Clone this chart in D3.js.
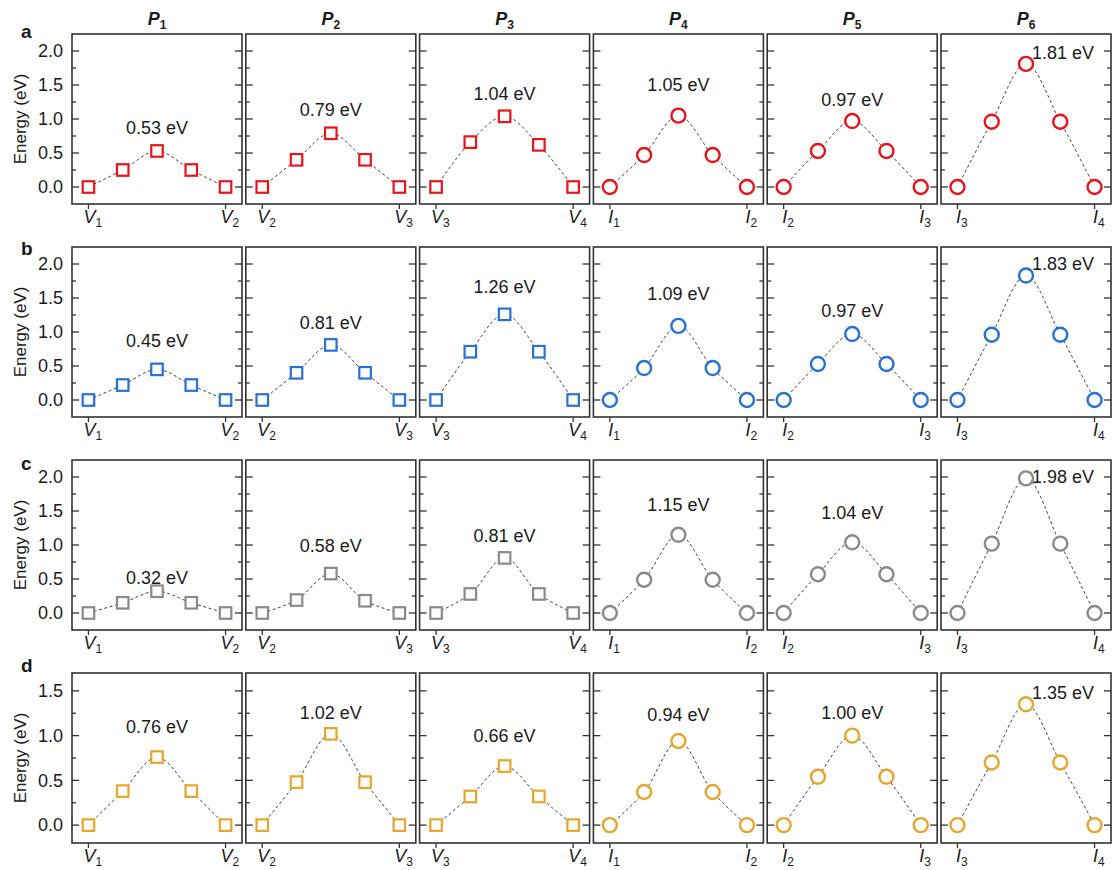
<!DOCTYPE html>
<html>
<head>
<meta charset="utf-8">
<script src="https://cdn.jsdelivr.net/npm/d3@7/dist/d3.min.js"></script>
<style>
  html, body { margin: 0; padding: 0; background: #fff; }
  svg { display: block; font-family: "Liberation Sans", Arial, Helvetica, sans-serif; }
</style>
</head>
<body>
<svg id="chart" width="1113" height="870"></svg>
<script>
// ---------------- data ----------------
const rowLetters = ["a", "b", "c", "d"];
const colTitles = ["1", "2", "3", "4", "5", "6"];           // P subscripts
const endLetters = [["V", "V"], ["V", "V"], ["V", "V"], ["I", "I"], ["I", "I"], ["I", "I"]];
const endSubs = [["1", "2"], ["2", "3"], ["3", "4"], ["1", "2"], ["2", "3"], ["3", "4"]];
const markerShapes = ["square", "square", "square", "circle", "circle", "circle"];
const rowColors = ["#e8141b", "#2572d6", "#8a8a8a", "#e6a62c"];

const energyA = [
  [0, 0.25, 0.53, 0.25, 0],
  [0, 0.40, 0.79, 0.40, 0],
  [0, 0.66, 1.04, 0.62, 0],
  [0, 0.47, 1.05, 0.47, 0],
  [0, 0.53, 0.97, 0.53, 0],
  [0, 0.96, 1.81, 0.96, 0]
];
const energyB = [
  [0, 0.22, 0.45, 0.22, 0],
  [0, 0.40, 0.81, 0.40, 0],
  [0, 0.71, 1.26, 0.71, 0],
  [0, 0.47, 1.09, 0.47, 0],
  [0, 0.53, 0.97, 0.53, 0],
  [0, 0.96, 1.83, 0.96, 0]
];
const energyC = [
  [0, 0.15, 0.32, 0.15, 0],
  [0, 0.19, 0.58, 0.18, 0],
  [0, 0.28, 0.81, 0.28, 0],
  [0, 0.49, 1.15, 0.49, 0],
  [0, 0.57, 1.04, 0.57, 0],
  [0, 1.02, 1.98, 1.02, 0]
];
const energyD = [
  [0, 0.38, 0.76, 0.38, 0],
  [0, 0.48, 1.02, 0.48, 0],
  [0, 0.32, 0.66, 0.32, 0],
  [0, 0.37, 0.94, 0.37, 0],
  [0, 0.54, 1.00, 0.54, 0],
  [0, 0.70, 1.35, 0.70, 0]
];
const energies = [energyA, energyB, energyC, energyD];

const barrierA = ["0.53 eV", "0.79 eV", "1.04 eV", "1.05 eV", "0.97 eV", "1.81 eV"];
const barrierB = ["0.45 eV", "0.81 eV", "1.26 eV", "1.09 eV", "0.97 eV", "1.83 eV"];
const barrierC = ["0.32 eV", "0.58 eV", "0.81 eV", "1.15 eV", "1.04 eV", "1.98 eV"];
const barrierD = ["0.76 eV", "1.02 eV", "0.66 eV", "0.94 eV", "1.00 eV", "1.35 eV"];
const barriers = [barrierA, barrierB, barrierC, barrierD];

// label anchor (energy, eV) of each barrier annotation
const labelEA = [0.87, 1.13, 1.37, 1.51, 1.28, 1.97];
const labelEB = [0.87, 1.13, 1.66, 1.56, 1.32, 2.01];
const labelEC = [0.52, 0.99, 1.14, 1.59, 1.47, 2.00];
const labelED = [1.10, 1.26, 1.00, 1.23, 1.26, 1.48];
const labelE = [labelEA, labelEB, labelEC, labelED];

const yDomains = [[-0.25, 2.25], [-0.25, 2.25], [-0.25, 2.25], [-0.2, 1.7]];
const yMajorTicks = [[0, 0.5, 1.0, 1.5, 2.0], [0, 0.5, 1.0, 1.5, 2.0], [0, 0.5, 1.0, 1.5, 2.0], [0, 0.5, 1.0, 1.5]];
const yMinorTicks = [[0.25, 0.75, 1.25, 1.75], [0.25, 0.75, 1.25, 1.75], [0.25, 0.75, 1.25, 1.75], [0.25, 0.75, 1.25]];

// ---------------- layout ----------------
const panelW = 170, panelH = 170;
const left0 = 72, colStep = 173.8;
const top0 = 34, rowStep = 213;
const letterBaselines = [38, 255, 470, 672];
const textColor = "#1a1a1a";
const frameColor = "#333";

const svg = d3.select("#chart");

const x = d3.scaleLinear().domain([-0.48, 4.48]).range([0, panelW]);

const line = d3.line()
  .x((d, i) => x(i))
  .curve(d3.curveCatmullRom.alpha(0.5));

// column titles
colTitles.forEach((sub, c) => {
  const cx = left0 + c * colStep + panelW / 2;
  const t = svg.append("text")
    .attr("x", cx).attr("y", 25)
    .attr("text-anchor", "middle")
    .attr("font-weight", "bold")
    .attr("fill", textColor);
  t.append("tspan").attr("font-style", "italic").attr("font-size", 18).text("P");
  t.append("tspan").attr("font-size", 12).attr("dy", 4).text(sub);
});

energies.forEach((rowData, r) => {
  const top = top0 + r * rowStep;
  const y = d3.scaleLinear().domain(yDomains[r]).range([panelH, 0]);
  line.y(d => y(d));

  // row letter
  svg.append("text")
    .attr("x", 21).attr("y", letterBaselines[r])
    .attr("font-size", 19).attr("font-weight", "bold")
    .attr("fill", textColor)
    .text(rowLetters[r]);

  // y title
  svg.append("text")
    .attr("transform", `translate(26,${top + panelH / 2}) rotate(-90)`)
    .attr("text-anchor", "middle")
    .attr("font-size", 17)
    .attr("fill", textColor)
    .text("Energy (eV)");

  rowData.forEach((vals, c) => {
    const left = left0 + c * colStep;
    const g = svg.append("g").attr("transform", `translate(${left},${top})`);

    // ticks (inside, both sides)
    const addTicks = (ticks, len) => {
      ticks.forEach(t => {
        g.append("line").attr("x1", 0).attr("x2", len)
          .attr("y1", y(t)).attr("y2", y(t))
          .attr("stroke", frameColor).attr("stroke-width", 1.3);
        g.append("line").attr("x1", panelW).attr("x2", panelW - len)
          .attr("y1", y(t)).attr("y2", y(t))
          .attr("stroke", frameColor).attr("stroke-width", 1.3);
      });
    };
    addTicks(yMajorTicks[r], 7);
    addTicks(yMinorTicks[r], 4);

    // y tick labels on first column
    if (c === 0) {
      yMajorTicks[r].forEach(t => {
        g.append("text")
          .attr("x", -9).attr("y", y(t)).attr("dy", "0.35em")
          .attr("text-anchor", "end")
          .attr("font-size", 18)
          .attr("fill", textColor)
          .text(d3.format(".1f")(t));
      });
    }

    // bottom ticks (outside) at end points + labels
    [0, 4].forEach((idx, k) => {
      g.append("line")
        .attr("x1", x(idx)).attr("x2", x(idx))
        .attr("y1", panelH).attr("y2", panelH + 5)
        .attr("stroke", frameColor).attr("stroke-width", 1.3);
      const t = g.append("text")
        .attr("y", panelH + 19)
        .attr("fill", textColor);
      const main = t.append("tspan").attr("font-style", "italic").attr("font-size", 18)
        .text(endLetters[c][k]);
      t.append("tspan").attr("font-size", 12).attr("dy", 4).text(endSubs[c][k]);
      const w = main.node().getComputedTextLength();
      t.attr("x", x(idx) - w / 2 + 1);
    });

    // dashed curve
    g.append("path")
      .datum(vals)
      .attr("d", line)
      .attr("fill", "none")
      .attr("stroke", "#444")
      .attr("stroke-width", 1)
      .attr("stroke-dasharray", "3,2.5");

    // markers
    const color = rowColors[r];
    if (markerShapes[c] === "square") {
      const s = 11.5;
      g.selectAll("rect.m").data(vals).enter().append("rect")
        .attr("x", (d, i) => x(i) - s / 2)
        .attr("y", d => y(d) - s / 2)
        .attr("width", s).attr("height", s)
        .attr("fill", "#fff")
        .attr("stroke", color).attr("stroke-width", 2.2);
    } else {
      g.selectAll("circle.m").data(vals).enter().append("circle")
        .attr("cx", (d, i) => x(i))
        .attr("cy", d => y(d))
        .attr("r", 7)
        .attr("fill", "#fff")
        .attr("stroke", color).attr("stroke-width", 2.4);
    }

    // barrier annotation
    const lx = c === 5 ? x(3.08) : x(2);
    g.append("text")
      .attr("x", lx).attr("y", y(labelE[r][c])).attr("dy", "0.35em")
      .attr("text-anchor", "middle")
      .attr("font-size", 18)
      .attr("fill", textColor)
      .text(barriers[r][c]);

    // frame
    g.append("rect")
      .attr("x", 0).attr("y", 0).attr("width", panelW).attr("height", panelH)
      .attr("fill", "none")
      .attr("stroke", frameColor).attr("stroke-width", 1.6);
  });
});
</script>
</body>
</html>
